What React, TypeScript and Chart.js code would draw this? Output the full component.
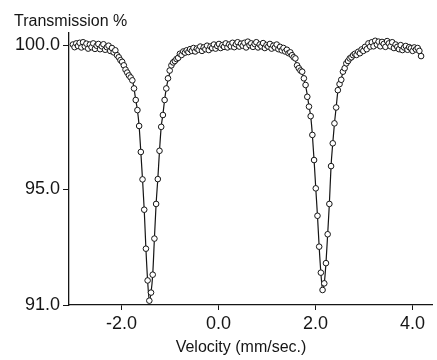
import React, { useEffect, useRef } from "react";
import { Chart, registerables } from "chart.js";

Chart.register(...registerables);

// Velocity channels (mm/sec.)
const velocity = [
  -3.0, -2.965, -2.93, -2.895, -2.86, -2.825, -2.79, -2.755, -2.72, -2.685,
  -2.65, -2.615, -2.58, -2.545, -2.51, -2.475, -2.44, -2.405, -2.37, -2.335,
  -2.3, -2.265, -2.23, -2.195, -2.16, -2.125, -2.09, -2.055, -2.02, -1.985,
  -1.95, -1.915, -1.88, -1.845, -1.81, -1.775, -1.74, -1.705, -1.67, -1.635,
  -1.6, -1.565, -1.53, -1.495, -1.46, -1.425, -1.39, -1.355, -1.32, -1.285,
  -1.25, -1.215, -1.18, -1.145, -1.11, -1.075, -1.04, -1.005, -0.97, -0.935,
  -0.9, -0.865, -0.83, -0.795, -0.76, -0.725, -0.69, -0.655, -0.62, -0.585,
  -0.55, -0.515, -0.48, -0.445, -0.41, -0.375, -0.34, -0.305, -0.27, -0.235,
  -0.2, -0.165, -0.13, -0.095, -0.06, -0.025, 0.01, 0.045, 0.08, 0.115,
  0.15, 0.185, 0.22, 0.255, 0.29, 0.325, 0.36, 0.395, 0.43, 0.465,
  0.5, 0.535, 0.57, 0.605, 0.64, 0.675, 0.71, 0.745, 0.78, 0.815,
  0.85, 0.885, 0.92, 0.955, 0.99, 1.025, 1.06, 1.095, 1.13, 1.165,
  1.2, 1.235, 1.27, 1.305, 1.34, 1.375, 1.41, 1.445, 1.48, 1.515,
  1.55, 1.585, 1.62, 1.655, 1.69, 1.725, 1.76, 1.795, 1.83, 1.865,
  1.9, 1.935, 1.97, 2.005, 2.04, 2.075, 2.11, 2.145, 2.18, 2.215,
  2.25, 2.285, 2.32, 2.355, 2.39, 2.425, 2.46, 2.495, 2.53, 2.565,
  2.6, 2.635, 2.67, 2.705, 2.74, 2.775, 2.81, 2.845, 2.88, 2.915,
  2.95, 2.985, 3.02, 3.055, 3.09, 3.125, 3.16, 3.195, 3.23, 3.265,
  3.3, 3.335, 3.37, 3.405, 3.44, 3.475, 3.51, 3.545, 3.58, 3.615,
  3.65, 3.685, 3.72, 3.755, 3.79, 3.825, 3.86, 3.895, 3.93, 3.965,
  4.0, 4.035, 4.07, 4.105, 4.14, 4.175,
];

// Measured transmission (%)
const transmission = [
  100.02, 99.93, 100.06, 99.97, 100.08, 99.92, 100.1, 99.96, 100.05, 99.88,
  100.02, 99.93, 100.06, 99.87, 99.98, 100.04, 99.86, 99.96, 100.03, 99.84,
  99.93, 99.98, 99.8, 99.9, 99.75, 99.82, 99.65, 99.58, 99.48, 99.42,
  99.3, 99.15, 99.05, 98.95, 98.88, 98.78, 98.5, 98.1, 97.75, 97.2,
  96.3, 95.35, 94.3, 92.95, 91.85, 91.15, 91.43, 92.05, 93.3, 94.5,
  95.36, 96.34, 97.17, 97.58, 98.1, 98.5, 98.85, 99.12, 99.3, 99.4,
  99.45, 99.52, 99.56, 99.7, 99.66, 99.78, 99.74, 99.82, 99.76, 99.86,
  99.8, 99.9, 99.78, 99.88, 99.84, 99.95, 99.8, 99.92, 99.86, 99.98,
  99.83, 99.95, 99.9, 100.02, 99.88, 99.97, 100.04, 99.9, 100.0, 99.94,
  100.06, 99.92, 100.02, 99.96, 100.08, 99.93, 100.03, 100.1, 99.95, 100.05,
  99.98, 100.08, 99.92, 100.12, 100.0, 100.06, 99.94, 100.04, 100.1, 99.92,
  100.02, 99.96, 100.07, 99.9, 100.0, 99.95, 100.04, 99.88, 99.98, 99.92,
  100.02, 99.86, 99.94, 99.82, 99.9, 99.78, 99.84, 99.72, 99.75, 99.65,
  99.58, 99.54, 99.3, 99.2, 99.12, 99.08, 98.85, 98.62, 98.21, 97.87,
  97.54, 96.89, 96.02, 95.04, 94.09, 93.02, 92.12, 91.52, 91.75, 92.45,
  93.45, 94.5, 95.81, 96.6, 97.29, 97.84, 98.44, 98.65, 98.8, 99.08,
  99.2, 99.37, 99.45, 99.54, 99.58, 99.65, 99.7, 99.66, 99.77, 99.72,
  99.85, 99.8, 99.94, 99.86, 100.06, 99.95, 100.1, 99.96, 100.15, 100.02,
  100.12, 99.96, 100.11, 100.04, 99.94, 100.14, 100.06, 99.96, 100.1, 99.9,
  100.02, 99.94, 99.86, 100.0, 99.83, 99.92, 99.97, 99.84, 99.93, 99.89,
  99.8, 99.92, 99.85, 99.9, 99.8, 99.62,
];

// Fitted curve
const fitVelocity = [
  -3.0, -2.7, -2.4, -2.2, -2.05, -1.95, -1.85, -1.775, -1.74, -1.705,
  -1.67, -1.635, -1.6, -1.565, -1.53, -1.495, -1.46, -1.425, -1.39, -1.355,
  -1.32, -1.285, -1.25, -1.215, -1.18, -1.145, -1.11, -1.075, -1.04, -0.97,
  -0.85, -0.7, -0.4, 0.0, 0.6, 1.2, 1.45, 1.55, 1.65, 1.76,
  1.83, 1.865, 1.9, 1.935, 1.97, 2.005, 2.04, 2.075, 2.11, 2.145,
  2.18, 2.215, 2.25, 2.285, 2.32, 2.355, 2.39, 2.425, 2.46, 2.53,
  2.6, 2.7, 2.85, 3.0, 3.3, 3.6, 3.9, 4.175,
];
const fitTransmission = [
  100.0, 99.96, 99.9, 99.82, 99.62, 99.35, 99.05, 98.8, 98.5, 98.1,
  97.75, 97.2, 96.3, 95.35, 94.3, 92.95, 91.85, 91.15, 91.43, 92.05,
  93.3, 94.5, 95.36, 96.34, 97.17, 97.6, 98.1, 98.5, 98.8, 99.2,
  99.5, 99.72, 99.86, 99.95, 100.0, 99.92, 99.74, 99.56, 99.22, 98.85,
  98.28, 97.88, 97.54, 96.89, 96.02, 95.04, 94.09, 93.02, 92.12, 91.52,
  91.75, 92.45, 93.45, 94.5, 95.81, 96.6, 97.29, 97.84, 98.4, 98.85,
  99.22, 99.52, 99.74, 99.92, 100.05, 99.98, 99.88, 99.75,
];

const xTicks = [-2, 0, 2, 4];
const yTicks = [91, 95, 100];

const FONT = "'Liberation Sans', Arial, sans-serif";
const INK = "#151515";

const textPlugin = {
  id: "freeLabels",
  afterDraw(chart: any) {
    const ctx = chart.ctx;
    ctx.save();
    ctx.fillStyle = INK;
    ctx.font = `16px ${FONT}`;
    ctx.textBaseline = "middle";
    ctx.textAlign = "left";
    ctx.fillText("Transmission %", 14, 22);
    ctx.textAlign = "center";
    ctx.fillText("Velocity (mm/sec.)", 241, 348);
    ctx.restore();
  },
};

export default function App() {
  const ref = useRef<HTMLCanvasElement | null>(null);

  useEffect(() => {
    if (!ref.current) return;
    const points = velocity.map((v, i) => ({ x: v, y: transmission[i] }));
    const fit = fitVelocity.map((v, i) => ({ x: v, y: fitTransmission[i] }));
    const chart = new Chart(ref.current, {
      type: "scatter",
      data: {
        datasets: [
          {
            type: "line",
            label: "fit",
            data: fit,
            borderColor: INK,
            borderWidth: 1.2,
            pointRadius: 0,
            fill: false,
            cubicInterpolationMode: "monotone",
            order: 2,
          } as any,
          {
            type: "scatter",
            label: "data",
            data: points,
            showLine: false,
            pointRadius: 2.8,
            pointBorderWidth: 1,
            pointBorderColor: INK,
            pointBackgroundColor: "#ffffff",
            order: 1,
          } as any,
        ],
      },
      options: {
        responsive: false,
        animation: false,
        layout: { padding: { top: 33, right: 0, left: 0, bottom: 0 } },
        plugins: {
          legend: { display: false },
          tooltip: { enabled: false },
          title: { display: false },
        },
        scales: {
          x: {
            type: "linear",
            min: -3.08,
            max: 4.4,
            afterBuildTicks: (axis: any) => {
              axis.ticks = xTicks.map((v) => ({ value: v }));
            },
            afterFit: (scale: any) => {
              scale.height = 55;
            },
            ticks: {
              callback: (v: any) => Number(v).toFixed(1),
              font: { family: FONT, size: 18 },
              color: INK,
              padding: 3,
              maxRotation: 0,
            },
            grid: {
              drawOnChartArea: false,
              drawTicks: true,
              tickLength: 5,
              color: INK,
            },
            border: { display: true, color: INK, width: 1.3 },
          },
          y: {
            type: "linear",
            min: 91,
            max: 100.42,
            afterBuildTicks: (axis: any) => {
              axis.ticks = yTicks.map((v) => ({ value: v }));
            },
            afterFit: (scale: any) => {
              scale.width = 69;
            },
            ticks: {
              callback: (v: any) => Number(v).toFixed(1),
              font: { family: FONT, size: 18 },
              color: INK,
              padding: 3,
            },
            grid: {
              drawOnChartArea: false,
              drawTicks: true,
              tickLength: 6,
              color: INK,
            },
            border: { display: true, color: INK, width: 1.3 },
          },
        },
      },
      plugins: [textPlugin],
    });
    return () => chart.destroy();
  }, []);

  return (
    <div style={{ position: "absolute", left: 0, top: 0, width: 437, height: 360, background: "#fff" }}>
      <canvas ref={ref} width={437} height={360} style={{ width: 437, height: 360, display: "block" }} />
    </div>
  );
}
